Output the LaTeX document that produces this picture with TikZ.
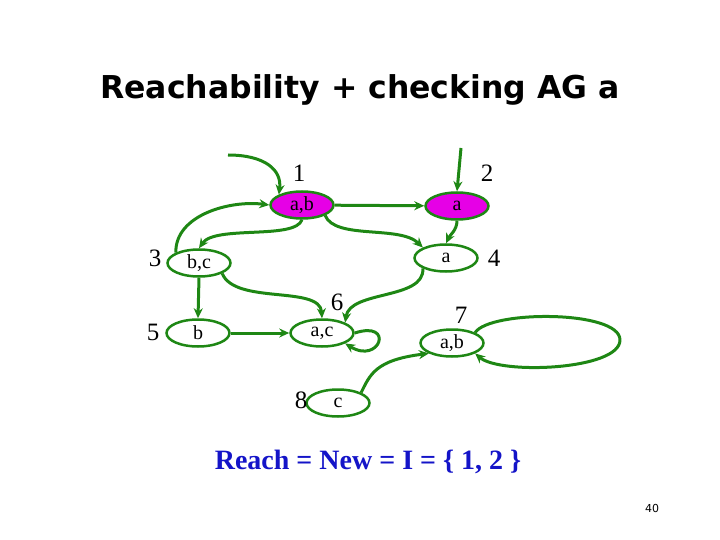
\documentclass[tikz,border=0pt]{standalone}
\usepackage{fontspec}
\setmainfont{Liberation Serif}
\setsansfont{DejaVu Sans}
\usetikzlibrary{arrows.meta,shapes.geometric}
\definecolor{gr}{RGB}{30,135,20}
\definecolor{mag}{RGB}{230,0,230}
\definecolor{bl}{RGB}{20,20,200}
\begin{document}
\begin{tikzpicture}[x=1pt,y=-1pt,
  st/.style={ellipse,draw=gr,line width=2.5pt,minimum width=63pt,minimum height=27pt,inner sep=0pt,font=\fontsize{20}{20}\selectfont},
  lab/.style={font=\fontsize{25}{25}\selectfont},
  ed/.style={draw=gr,line width=3pt,-{Stealth[length=10pt,width=9pt]}}]
\useasboundingbox (0,0) rectangle (720,540);
\node (t) at (360,90) {\sffamily\bfseries\fontsize{31.5}{31.5}\selectfont Reachability + checking AG a};
\node[st,fill=mag] (n1) at (302,205) {a,b};
\node[st,fill=mag] (n2) at (457,206) {a};
\node[st] (n3) at (199,263) {b,c};
\node[st] (n4) at (446,258) {a};
\node[st] (n5) at (198,333) {b};
\node[st] (n6) at (322,333) {a,c};
\node[st] (n7) at (452,343) {a,b};
\node[st] (n8) at (338,403) {c};
\node[lab] (l1) at (299,173) {1};
\node[lab] (l2) at (487,173) {2};
\node[lab] (l3) at (155,258) {3};
\node[lab] (l4) at (494,258) {4};
\node[lab] (l5) at (153,332) {5};
\node[lab] (l6) at (337,302) {6};
\node[lab] (l7) at (461,315) {7};
\node[lab] (l8) at (301,400) {8};
\coordinate (s1) at (228,155);
\coordinate (s2) at (461,148);
\coordinate (c7) at (620,340);
\draw[ed] (s1) .. controls (265,155) and (282,170) .. (n1.north west);
\draw[ed] (s2) -- (n2.north);
\draw[ed] (n1) -- (n2);
\draw[ed] (n1.south) .. controls (295,240) and (215,225) .. (n3.north);
\draw[ed] (n3.north west) .. controls (175,215) and (230,200) .. (n1.west);
\draw[ed] (n1.south east) .. controls (335,240) and (400,225) .. (n4.north west);
\draw[ed] (n2.south) .. controls (457,230) and (450,235) .. (n4.north);
\draw[ed] (n3.south) -- (n5.north);
\draw[ed] (n3.south east) .. controls (235,305) and (320,285) .. (n6.north);
\draw[ed] (n4.south west) .. controls (425,300) and (350,290) .. (n6.north east);
\draw[ed] (n5.east) -- (n6.west);
\draw[ed] (n6.east) .. controls (395,320) and (380,365) .. (n6.south east);
\draw[ed] (n8.north east) .. controls (370,375) and (375,360) .. (n7.south west);
\draw[draw=gr,line width=3pt] (n7.north east) .. controls (490,310) and (620,310) .. (c7);
\draw[ed] (c7) .. controls (620,370) and (500,375) .. (n7.south east);
\node[text=bl,font=\bfseries\fontsize{28}{28}\selectfont] (r) at (368,462) {Reach = New = I = \{ 1, 2 \}};
\node[font=\sffamily\fontsize{11}{11}\selectfont] (p) at (652,508) {40};
\end{tikzpicture}
\end{document}
